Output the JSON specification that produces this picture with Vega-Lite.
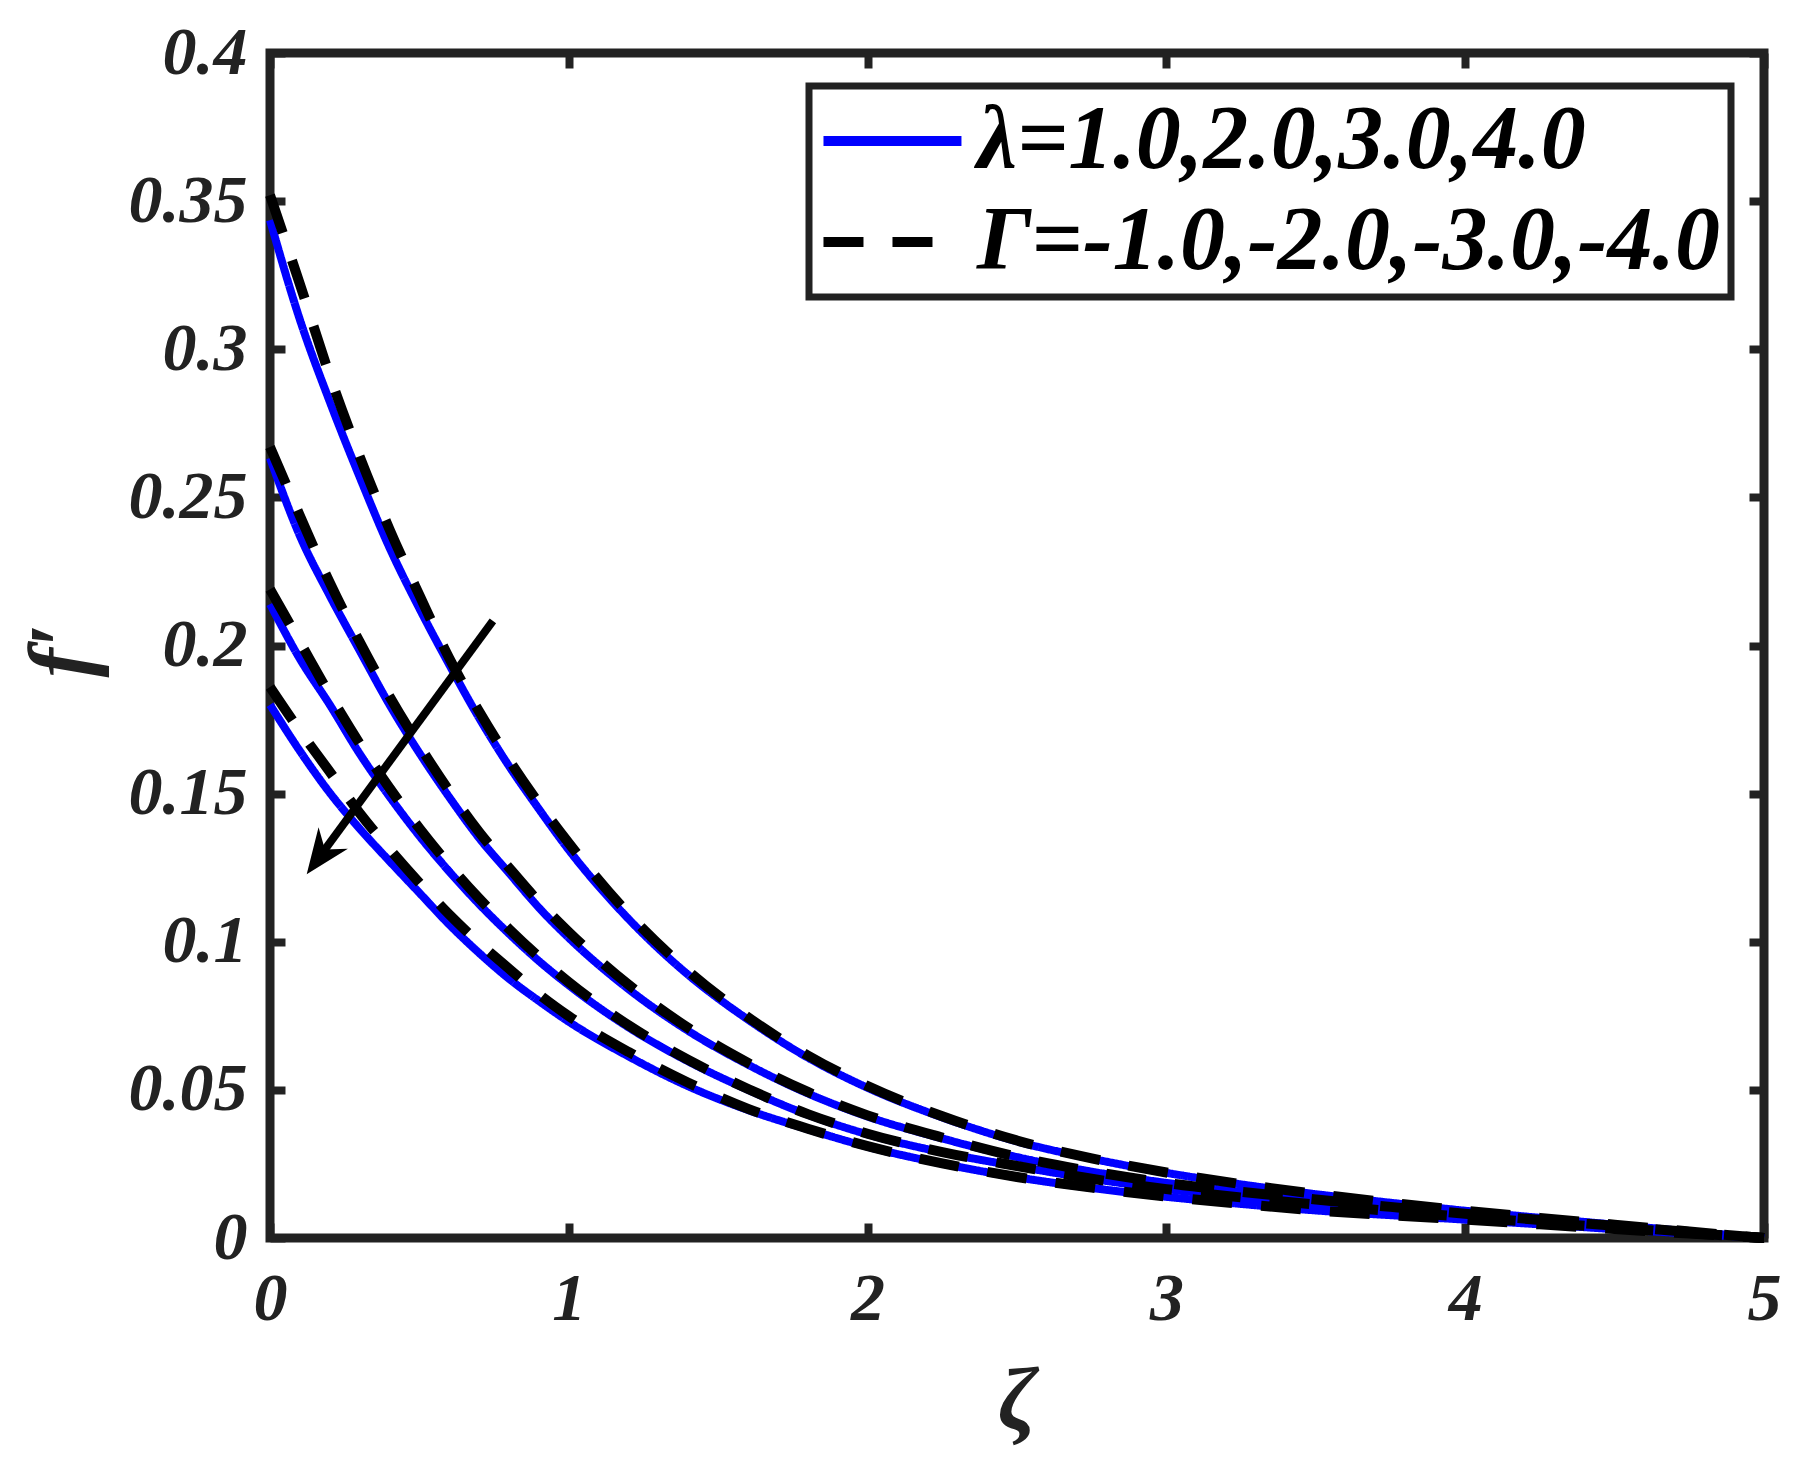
{
  "$schema": "https://vega.github.io/schema/vega-lite/v6.json",
  "width": 1494,
  "height": 1185,
  "autosize": {"type": "none"},
  "padding": {"left": 270, "top": 53, "right": 55, "bottom": 222},
  "background": "white",
  "data": {
    "values": [
      {"z": 0, "s1": 0.3436, "d1": 0.352, "s2": 0.2633, "d2": 0.267, "s3": 0.214, "d3": 0.219, "s4": 0.18, "d4": 0.186},
      {"z": 0.1, "s1": 0.31, "d1": 0.322, "s2": 0.237, "d2": 0.2438, "s3": 0.1955, "d3": 0.2012, "s4": 0.1644, "d4": 0.1712},
      {"z": 0.2, "s1": 0.2823, "d1": 0.2911, "s2": 0.2168, "d2": 0.2212, "s3": 0.18, "d3": 0.1834, "s4": 0.1503, "d4": 0.1574},
      {"z": 0.3, "s1": 0.2569, "d1": 0.2638, "s2": 0.1983, "d2": 0.2012, "s3": 0.1635, "d3": 0.1669, "s4": 0.1382, "d4": 0.1434},
      {"z": 0.4, "s1": 0.233, "d1": 0.2392, "s2": 0.18, "d2": 0.1828, "s3": 0.149, "d3": 0.1519, "s4": 0.1272, "d4": 0.1313},
      {"z": 0.5, "s1": 0.2125, "d1": 0.217, "s2": 0.1637, "d2": 0.1662, "s3": 0.1357, "d3": 0.1383, "s4": 0.1165, "d4": 0.1199},
      {"z": 0.6, "s1": 0.1935, "d1": 0.1957, "s2": 0.1488, "d2": 0.1509, "s3": 0.1237, "d3": 0.1259, "s4": 0.1058, "d4": 0.1092},
      {"z": 0.7, "s1": 0.1755, "d1": 0.1777, "s2": 0.135, "d2": 0.137, "s3": 0.1127, "d3": 0.1146, "s4": 0.0962, "d4": 0.0996},
      {"z": 0.8, "s1": 0.1593, "d1": 0.1614, "s2": 0.1232, "d2": 0.125, "s3": 0.1027, "d3": 0.1043, "s4": 0.0875, "d4": 0.0909},
      {"z": 0.9, "s1": 0.1448, "d1": 0.1467, "s2": 0.1115, "d2": 0.1135, "s3": 0.0935, "d3": 0.0949, "s4": 0.08, "d4": 0.0823},
      {"z": 1.0, "s1": 0.131, "d1": 0.1333, "s2": 0.1013, "d2": 0.1033, "s3": 0.0853, "d3": 0.0864, "s4": 0.073, "d4": 0.0749},
      {"z": 1.2, "s1": 0.1077, "d1": 0.1094, "s2": 0.084, "d2": 0.0855, "s3": 0.0711, "d3": 0.0718, "s4": 0.0613, "d4": 0.0628},
      {"z": 1.4, "s1": 0.0888, "d1": 0.0901, "s2": 0.0699, "d2": 0.0709, "s3": 0.0596, "d3": 0.0601, "s4": 0.0512, "d4": 0.0524},
      {"z": 1.6, "s1": 0.0737, "d1": 0.0745, "s2": 0.0585, "d2": 0.0591, "s3": 0.05, "d3": 0.0503, "s4": 0.0432, "d4": 0.0436},
      {"z": 1.8, "s1": 0.0609, "d1": 0.0616, "s2": 0.0488, "d2": 0.0493, "s3": 0.0416, "d3": 0.0418, "s4": 0.0367, "d4": 0.0369},
      {"z": 2.0, "s1": 0.0507, "d1": 0.0513, "s2": 0.041, "d2": 0.0414, "s3": 0.035, "d3": 0.0352, "s4": 0.0308, "d4": 0.031},
      {"z": 2.25, "s1": 0.0407, "d1": 0.0411, "s2": 0.0336, "d2": 0.0339, "s3": 0.0289, "d3": 0.029, "s4": 0.0251, "d4": 0.0252},
      {"z": 2.5, "s1": 0.0326, "d1": 0.0329, "s2": 0.0273, "d2": 0.0274, "s3": 0.0242, "d3": 0.0243, "s4": 0.0205, "d4": 0.0206},
      {"z": 2.75, "s1": 0.0268, "d1": 0.0269, "s2": 0.0224, "d2": 0.0225, "s3": 0.02, "d3": 0.02, "s4": 0.0169, "d4": 0.017},
      {"z": 3.0, "s1": 0.022, "d1": 0.0221, "s2": 0.0186, "d2": 0.0186, "s3": 0.0165, "d3": 0.0165, "s4": 0.0139, "d4": 0.014},
      {"z": 3.25, "s1": 0.0181, "d1": 0.0182, "s2": 0.0156, "d2": 0.0156, "s3": 0.0137, "d3": 0.0137, "s4": 0.0115, "d4": 0.0115},
      {"z": 3.5, "s1": 0.0148, "d1": 0.0149, "s2": 0.013, "d2": 0.013, "s3": 0.0113, "d3": 0.0113, "s4": 0.0093, "d4": 0.0093},
      {"z": 3.75, "s1": 0.0119, "d1": 0.0119, "s2": 0.0105, "d2": 0.0105, "s3": 0.0091, "d3": 0.0091, "s4": 0.0077, "d4": 0.0077},
      {"z": 4.0, "s1": 0.0092, "d1": 0.0092, "s2": 0.0082, "d2": 0.0082, "s3": 0.0071, "d3": 0.0071, "s4": 0.0062, "d4": 0.0062},
      {"z": 4.25, "s1": 0.0068, "d1": 0.0068, "s2": 0.0061, "d2": 0.0061, "s3": 0.0052, "d3": 0.0052, "s4": 0.0046, "d4": 0.0046},
      {"z": 4.5, "s1": 0.0045, "d1": 0.0045, "s2": 0.0041, "d2": 0.0041, "s3": 0.0034, "d3": 0.0034, "s4": 0.003, "d4": 0.003},
      {"z": 4.75, "s1": 0.0022, "d1": 0.0022, "s2": 0.002, "d2": 0.002, "s3": 0.0017, "d3": 0.0017, "s4": 0.0015, "d4": 0.0015},
      {"z": 5.0, "s1": 0, "d1": 0, "s2": 0, "d2": 0, "s3": 0, "d3": 0, "s4": 0, "d4": 0}
    ]
  },
  "config": {
    "view": {"stroke": "#222222", "strokeWidth": 9},
    "font": "Liberation Serif",
    "axis": {
      "grid": false,
      "domain": false,
      "tickColor": "#222222",
      "tickWidth": 8,
      "tickSize": -15,
      "labelFont": "Liberation Serif",
      "labelFontSize": 68,
      "labelFontStyle": "italic",
      "labelFontWeight": "bold",
      "labelColor": "#222222",
      "labelFlush": false,
      "labelOverlap": false,
      "titleFont": "Liberation Serif",
      "titleFontSize": 88,
      "titleFontStyle": "italic",
      "titleFontWeight": "bold",
      "titleColor": "#222222"
    },
    "legend": {
      "orient": "top-right",
      "offset": 33,
      "symbolType": "M-1.43,0 L3.44,0",
      "symbolSize": 3211,
      "symbolStrokeWidth": 10,
      "labelFont": "Liberation Serif",
      "labelFontSize": 90,
      "labelFontStyle": "italic",
      "labelFontWeight": "bold",
      "labelColor": "#000000",
      "labelLimit": 2000,
      "labelOffset": 68,
      "padding": 10,
      "rowPadding": 11,
      "strokeColor": "#222222",
      "fillColor": "#ffffff"
    }
  },
  "layer": [
    {
      "transform": [{"fold": ["s1", "s2", "s3", "s4"], "as": ["curve", "f"]}],
      "mark": {"type": "line", "strokeWidth": 8, "interpolate": "monotone"},
      "encoding": {
        "x": {
          "field": "z", "type": "quantitative",
          "scale": {"domain": [0, 5], "nice": false, "zero": false},
          "axis": {"orient": "bottom", "values": [0, 1, 2, 3, 4, 5], "format": "d", "title": "ζ", "labelPadding": 42, "titleX": 747, "titleY": 190, "titleBaseline": "alphabetic", "titleAlign": "center"}
        },
        "y": {
          "field": "f", "type": "quantitative",
          "scale": {"domain": [0, 0.4], "nice": false},
          "axis": {"orient": "left", "values": [0, 0.05, 0.1, 0.15, 0.2, 0.25, 0.3, 0.35, 0.4], "format": "~g", "title": "f′", "labelPadding": 38, "titleX": -181, "titleY": 597, "titleBaseline": "alphabetic", "titleAlign": "center", "titleAngle": 270}
        },
        "detail": {"field": "curve"},
        "color": {
          "datum": "λ=1.0,2.0,3.0,4.0",
          "scale": {"domain": ["λ=1.0,2.0,3.0,4.0", "Γ=-1.0,-2.0,-3.0,-4.0"], "range": ["#0000ff", "#000000"]},
          "legend": {"title": null, "encode": {"legend": {"update": {"stroke": {"value": "#222222"}, "strokeWidth": {"value": 7}, "fill": {"value": "#ffffff"}}}}}
        },
        "strokeDash": {
          "datum": "λ=1.0,2.0,3.0,4.0",
          "scale": {"domain": ["λ=1.0,2.0,3.0,4.0", "Γ=-1.0,-2.0,-3.0,-4.0"], "range": [[1, 0], [40, 29]]},
          "legend": {"title": null}
        }
      }
    },
    {
      "transform": [{"fold": ["d1", "d2", "d3", "d4"], "as": ["curve", "f"]}],
      "mark": {"type": "line", "strokeWidth": 10, "interpolate": "monotone"},
      "encoding": {
        "x": {
          "field": "z", "type": "quantitative",
          "scale": {"domain": [0, 5], "nice": false, "zero": false},
          "axis": {"orient": "top", "values": [0, 1, 2, 3, 4, 5], "labels": false, "title": null}
        },
        "y": {
          "field": "f", "type": "quantitative",
          "scale": {"domain": [0, 0.4], "nice": false},
          "axis": {"orient": "right", "values": [0, 0.05, 0.1, 0.15, 0.2, 0.25, 0.3, 0.35, 0.4], "labels": false, "title": null}
        },
        "detail": {"field": "curve"},
        "color": {"datum": "Γ=-1.0,-2.0,-3.0,-4.0"},
        "strokeDash": {"datum": "Γ=-1.0,-2.0,-3.0,-4.0"}
      }
    },
    {
      "data": {"values": [{"z1": 0.746, "f1": 0.2083, "z2": 0.173, "f2": 0.1297}]},
      "mark": {"type": "rule", "strokeWidth": 8, "color": "#000000"},
      "encoding": {
        "x": {"field": "z1", "type": "quantitative", "scale": {"domain": [0, 5], "nice": false, "zero": false}, "axis": null},
        "y": {"field": "f1", "type": "quantitative", "scale": {"domain": [0, 0.4], "nice": false}, "axis": null},
        "x2": {"field": "z2"},
        "y2": {"field": "f2"}
      }
    },
    {
      "data": {"values": [{"z": 0.1228, "f": 0.1228}]},
      "mark": {"type": "point", "shape": "M0,0 L0.65,1.6 L0,1.1 L-0.65,1.6 Z", "size": 3136, "angle": 216.3, "filled": true, "color": "#000000", "opacity": 1, "strokeWidth": 0},
      "encoding": {
        "x": {"field": "z", "type": "quantitative", "scale": {"domain": [0, 5], "nice": false, "zero": false}, "axis": null},
        "y": {"field": "f", "type": "quantitative", "scale": {"domain": [0, 0.4], "nice": false}, "axis": null}
      }
    }
  ],
  "resolve": {"axis": {"x": "independent", "y": "independent"}}
}
